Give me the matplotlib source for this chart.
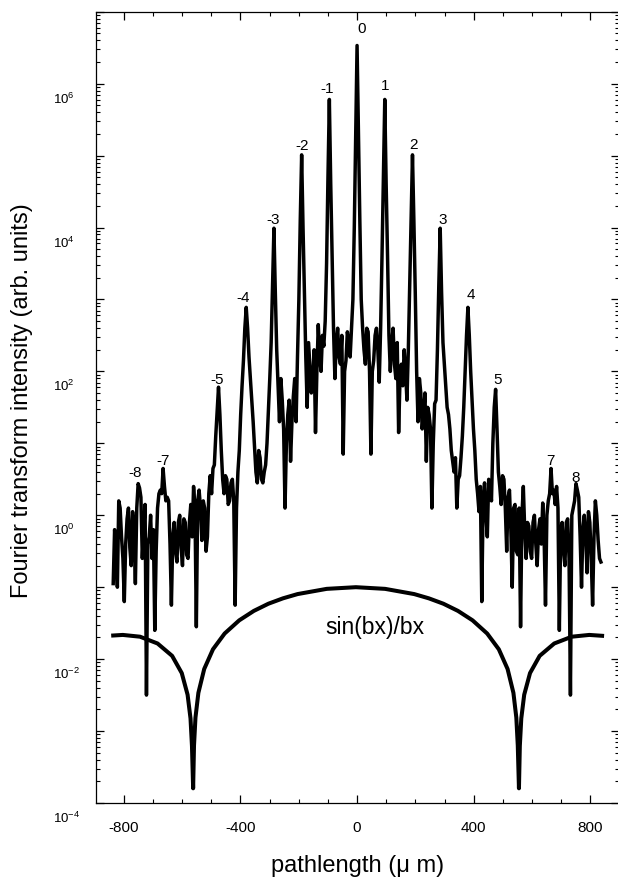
import numpy as np
import matplotlib
matplotlib.use("Agg")
import matplotlib.pyplot as plt
from matplotlib.transforms import ScaledTranslation
from matplotlib.ticker import FixedLocator, MultipleLocator, LogLocator, NullFormatter

plt.rcParams['font.family'] = ['Liberation Sans', 'DejaVu Sans']
plt.rcParams['mathtext.fontset'] = 'custom'
plt.rcParams['mathtext.rm'] = 'Liberation Sans'
plt.rcParams['mathtext.it'] = 'Liberation Sans:italic'
plt.rcParams['mathtext.bf'] = 'Liberation Sans:bold'

# ---------------- data ----------------
PATH_START_UM = -836.0   # first sample of the measured trace
PATH_STEP_UM = 4.75      # sample spacing of the measured trace

# log10 of the Fourier-transform intensity, one value per sample (left to right)
log_intensity = [
    # far left wing: orders -8, -7
    -0.95, -0.2, -0.5, -1.0, 0.2, 0.1, -0.3, -0.6, -1.2, -0.4,
    -0.05, 0.1, -0.45, -0.7, 0.05, -0.2, -0.95, 0.1, 0.44, 0.38,
    0.25, -0.6, -0.2, 0.15, -2.5, -0.4, -0.3, 0.0, -0.6, -0.2,
    -1.6, -0.5, 0.1, 0.3, 0.35, 0.3, 0.65, 0.4, 0.2, 0.25,
    0.2, -0.4, -1.25, -0.3, -0.1, -0.5, -0.65, -0.1, 0.0, -0.45,
    -0.7, -0.05, -0.1, -0.55, -0.6, -0.1, 0.15, -0.3, 0.4, 0.1,
    -1.55, 0.2, 0.35, 0.1, -0.35, 0.2, 0.1, -0.5, -0.3, 0.3,
    0.55, 0.3, 0.65, 0.7, 1.1, 1.45,
    # order -5 .. -4
    1.78, 1.4, 0.9, 0.5, 0.3, 0.55, 0.5, 0.15, 0.2, 0.45,
    0.5, 0.2, -1.25, 0.1, 0.6, 0.9, 1.4, 1.8, 2.15, 2.6,
    # order -4 .. -3
    2.89, 2.6, 2.2, 1.9, 1.6, 1.3, 0.95, 0.6, 0.45, 0.9,
    0.8, 0.5, 0.45, 0.6, 0.7, 1.0, 1.45, 1.9, 2.4, 3.2,
    # order -3 .. -2
    3.99, 3.1, 2.3, 1.8, 1.3, 1.9, 1.6, 1.2, 0.1, 1.0,
    1.4, 1.6, 0.75, 1.3, 1.65, 1.9, 1.3, 2.2, 3.0, 4.1,
    # order -2 .. -1
    5.01, 4.0, 3.1, 2.2, 1.5, 2.4, 2.05, 1.7, 1.9, 2.3,
    1.15, 2.0, 2.65, 2.2, 2.0, 2.5, 2.35, 2.7, 3.5, 4.7,
    # order -1 .. 0
    5.78, 4.6, 3.6, 2.6, 1.9, 2.4, 2.6, 2.2, 2.1, 2.5,
    0.85, 2.0, 2.15, 2.55, 2.4, 2.2, 2.6, 3.0, 4.0, 5.3,
    # order 0 .. 1
    6.53, 5.3, 4.1, 3.0, 2.6, 2.3, 2.1, 2.6, 2.55, 2.0,
    0.85, 2.0, 2.15, 2.5, 2.6, 2.3, 1.85, 2.6, 3.6, 4.7,
    # order 1 .. 2
    5.78, 4.6, 3.6, 2.5, 2.0, 2.4, 2.6, 2.1, 1.9, 2.4,
    1.15, 1.9, 2.1, 1.8, 2.3, 2.0, 1.6, 2.3, 3.2, 4.1,
    # order 2 .. 3
    5.01, 4.1, 3.1, 2.0, 1.3, 1.9, 1.7, 1.2, 1.4, 1.7,
    0.75, 1.5, 1.4, 1.2, 0.1, 1.0, 1.55, 1.6, 2.3, 3.2,
    # order 3 .. 4
    3.99, 3.1, 2.4, 2.1, 1.8, 1.5, 1.4, 1.2, 0.9, 0.75,
    0.6, 0.8, 0.1, 0.5, 0.55, 0.8, 1.1, 1.5, 2.0, 2.5,
    # order 4 .. 5
    2.89, 2.5, 2.0, 1.6, 1.2, 0.9, 0.5, 0.3, 0.05, 0.4,
    -1.2, 0.2, 0.45, 0.0, -0.3, 0.5, 0.4, 0.2, 1.0, 1.5,
    # order 5 and right wing: orders 7, 8
    1.75, 1.2, 0.6, 0.4, 0.15, 0.55, 0.5, 0.1, -0.5, 0.25,
    0.35, -0.2, -1.0, 0.1, 0.15, -0.5, -0.55, 0.1, -1.55, 0.0,
    0.4, -0.2, -0.6, -0.1, -0.15, -0.5, -0.6, -0.1, 0.0, -0.4,
    -0.7, -0.2, -0.05, -0.4, 0.17, -0.3, -1.25, 0.0, 0.2, 0.3,
    0.65, 0.3, 0.35, 0.15, 0.4, 0.1, -1.6, -0.2, -0.1, -0.5,
    -0.7, -0.1, -0.05, -0.6, -2.5, 0.0, 0.1, 0.2, 0.44, 0.35,
    0.25, -0.3, -1.0, -0.2, 0.0, -0.3, -0.8, 0.05, -0.1, -0.6,
    -1.25, -0.3, 0.2, 0.0, -0.35, -0.6, -0.65,
]

# sin(bx)/bx envelope curve
sinc_x_um = [-836, -803, -744, -684, -634, -601, -581, -571, -566, -562,
             -559, -554, -544, -524, -494, -454, -404, -354, -304, -254,
             -204, -104, -4, 96, 196, 246, 296, 346, 396, 446,
             486, 516, 536, 546, 551, 555, 558, 563, 573, 593,
             626, 676, 736, 796, 840]
sinc_y = [0.0213, 0.0217, 0.0205, 0.0165, 0.0111, 0.0064, 0.0032, 0.0015, 0.00062, 0.00016,
          0.00063, 0.00154, 0.0034, 0.0073, 0.0137, 0.0227, 0.0346, 0.0468, 0.0589, 0.070,
          0.0802, 0.0948, 0.100, 0.0948, 0.0802, 0.070, 0.0589, 0.0468, 0.0346, 0.0227,
          0.0137, 0.0073, 0.0034, 0.00154, 0.00063, 0.00016, 0.00062, 0.0015, 0.0032, 0.0064,
          0.0111, 0.0165, 0.0205, 0.0217, 0.0211]

# diffraction-order labels
order_labels = ['-8', '-7', '-5', '-4', '-3', '-2', '-1', '0',
                '1', '2', '3', '4', '5', '7', '8']
order_label_x = [-761, -666, -479, -389, -287, -190, -104, 16,
                 96, 193, 292, 389, 481, 664, 751]
order_label_log = [0.59, 0.76, 1.88, 3.02, 4.11, 5.14, 5.93, 6.76,
                   5.97, 5.15, 4.11, 3.06, 1.88, 0.76, 0.52]

xtick_values = [-800, -400, 0, 400, 800]
xtick_labels = ['-800', '-400', '0', '400', '800']
ytick_decades = list(range(-4, 8))
ylabel_decades = [-4, -2, 0, 2, 4, 6]

# ---------------- figure ----------------
W, H = 618, 882
fig = plt.figure(figsize=(W / 100, H / 100), dpi=100)
ax_left, ax_right, ax_top, ax_bottom = 96, 619, 11.7, 803
ax = fig.add_axes([ax_left / W, 1 - ax_bottom / H,
                   (ax_right - ax_left) / W, (ax_bottom - ax_top) / H])

pathlength = PATH_START_UM + PATH_STEP_UM * np.arange(len(log_intensity))
intensity = 10.0 ** np.asarray(log_intensity)

ax.plot(pathlength, intensity, color='black', lw=2.5)
ax.plot(sinc_x_um, sinc_y, color='black', lw=2.9)

ax.set_yscale('log')
ax.set_ylim(1e-4, 1e7)
ax.set_xlim(-895, 898)

for sp in ax.spines.values():
    sp.set_linewidth(0.9)
ax.spines['right'].set_visible(False)

# x ticks
ax.xaxis.set_major_locator(FixedLocator(xtick_values))
ax.set_xticklabels(xtick_labels)
ax.xaxis.set_minor_locator(MultipleLocator(100))

# y ticks
ax.yaxis.set_major_locator(FixedLocator([10.0 ** d for d in ytick_decades]))
ax.yaxis.set_minor_locator(LogLocator(base=10, subs=np.arange(2, 10), numticks=30))
ax.yaxis.set_minor_formatter(NullFormatter())
ax.set_yticklabels([r'$\mathregular{10^{%d}}$' % d if d in ylabel_decades else ''
                    for d in ytick_decades])

ax.tick_params(which='both', direction='in', top=True, right=True)
ax.tick_params(which='major', length=5.8, width=0.9)
ax.tick_params(which='minor', length=2.9, width=0.8)
ax.tick_params(axis='x', labelsize=11, pad=13)
ax.tick_params(axis='y', labelsize=9.5, pad=31)

offset = ScaledTranslation(0, -0.14, fig.dpi_scale_trans)
for lab in ax.get_yticklabels():
    lab.set_horizontalalignment('left')
    lab.set_transform(lab.get_transform() + offset)

# order labels
for lab, xx, lv in zip(order_labels, order_label_x, order_label_log):
    ax.text(xx, 10.0 ** lv, lab, ha='center', va='center', fontsize=11)

ax.text(62, 0.0275, 'sin(bx)/bx', ha='center', va='center', fontsize=16.5)

ax.set_xlabel('pathlength (μ m)', fontsize=17)
ax.xaxis.label.set_verticalalignment('center')
ax.xaxis.set_label_coords(0.5, -0.0796)
ax.set_ylabel('Fourier transform intensity (arb. units)', fontsize=17)
ax.yaxis.label.set_verticalalignment('center')
ax.yaxis.set_label_coords(-0.1415, 0.509)

fig.savefig('out.png', dpi=100)
